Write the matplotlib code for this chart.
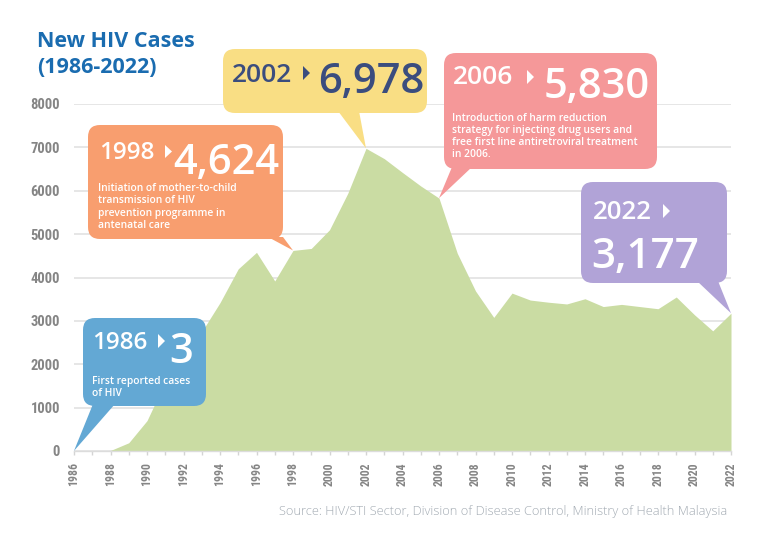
import matplotlib
matplotlib.use("Agg")
import matplotlib.pyplot as plt
from matplotlib import font_manager
from matplotlib.patches import FancyBboxPatch, Polygon

# data
years = list(range(1986, 2023))
cases = [3, 7, 12, 190, 700, 1600, 2300, 2750, 3420, 4200, 4580, 3920, 4624, 4670,
         5100, 5940, 6978, 6740, 6420, 6110, 5830, 4560, 3690, 3080, 3640, 3480,
         3430, 3390, 3510, 3330, 3380, 3330, 3280, 3550, 3140, 2770, 3177]

y_ticks = [0, 1000, 2000, 3000, 4000, 5000, 6000, 7000, 8000]
x_major = list(range(1986, 2023, 2))

title = "New HIV Cases\n(1986-2022)"
source = "Source: HIV/STI Sector, Division of Disease Control, Ministry of Health Malaysia"

callout_years = [1986, 1998, 2002, 2006, 2022]
callout_numbers = ["3", "4,624", "6,978", "5,830", "3,177"]
callout_notes = [
    ["First reported cases", "of HIV"],
    ["Initiation of mother-to-child", "transmission of HIV",
     "prevention programme in", "antenatal care"],
    [],
    ["Introduction of harm reduction", "strategy for injecting drug users and",
     "free first line antiretroviral treatment", "in 2006."],
    [],
]

# layout of each callout, in pixels measured from the top-left corner
callout_style = [
    dict(box=(83, 318, 206, 406), color="#63a8d4", text="white", base=(93, 115),
         year=(92, 349, 17.5), tri=(158, 334, 348), num=(169, 363, 30),
         note=(92, 384, 12.2)),
    dict(box=(88, 125, 283, 239), color="#f89e6f", text="white", base=(268, 283),
         year=(99, 159, 17.5), tri=(165, 145, 158), num=(173, 174, 30),
         note=(98, 191, 12.3)),
    dict(box=(223, 49, 427, 113), color="#f9de84", text="#3b4d7e", base=(338, 359),
         year=(232, 82, 19), tri=(303, 66, 80), num=(318, 93, 30), note=None),
    dict(box=(444, 53, 657, 169), color="#f59899", text="white", base=(452, 472),
         year=(453, 84, 19), tri=(527, 70, 84), num=(544, 98, 30),
         note=(452, 121, 12.1)),
    dict(box=(581, 182, 727, 283), color="#b1a3d7", text="white", base=(697, 718),
         year=(593, 219, 18.5), tri=(663, 204, 218), num=(591, 268, 30.5),
         note=None),
]

# pick a narrow face for the axis numbers if one is installed
fonts = font_manager.fontManager.ttflist
names = {f.name for f in fonts}
if "Roboto Condensed" in names:
    tick_font = dict(family="Roboto Condensed", weight="bold")
    x_size, y_size = 8.5, 10.5
elif "Liberation Sans Narrow" in names:
    tick_font = dict(family="Liberation Sans Narrow", weight="bold")
    x_size, y_size = 8.5, 10.5
elif any(f.name == "DejaVu Sans" and f.stretch == "condensed" for f in fonts):
    tick_font = dict(family="DejaVu Sans", stretch="condensed", weight="bold")
    x_size, y_size = 8, 10
else:
    tick_font = dict(family="DejaVu Sans", weight="bold")
    x_size, y_size = 7.5, 9
sans = ["Open Sans", "DejaVu Sans"]

W, H = 768, 541
fig = plt.figure(figsize=(W / 100, H / 100), dpi=100)
fig.patch.set_facecolor("white")

ax = fig.add_axes([74 / W, 1 - 451 / H, (731 - 74) / W, (451 - 104) / H])
ax.set_xlim(1986, 2022)
ax.set_ylim(0, 8000)
ax.fill_between(years, cases, color="#cadca3", lw=0, zorder=2)

ax.set_yticks(y_ticks)
ax.set_yticklabels([str(v) for v in y_ticks])
ax.set_xticks(x_major)
ax.set_xticks(years, minor=True)
ax.set_xticklabels([str(v) for v in x_major])
ax.grid(axis="y", color="#e4e4e4", lw=1.3, zorder=0)
ax.set_axisbelow(True)
for side in ["top", "right", "left"]:
    ax.spines[side].set_visible(False)
ax.spines["bottom"].set_color("#dcdcdc")
ax.spines["bottom"].set_linewidth(1.0)
ax.tick_params(axis="x", which="both", length=3, width=1, color="#d4d4d4", pad=5)
ax.tick_params(axis="y", length=0, pad=10)
for lab in ax.get_xticklabels():
    lab.set_rotation(90)
    lab.set_fontproperties(font_manager.FontProperties(size=x_size, **tick_font))
    lab.set_color("#858585")
for lab in ax.get_yticklabels():
    lab.set_fontproperties(font_manager.FontProperties(size=y_size, **tick_font))
    lab.set_color("#858585")

# overlay in pixel units for the callouts and titles
ov = fig.add_axes([0, 0, 1, 1], zorder=5)
ov.set_xlim(0, W)
ov.set_ylim(H, 0)
ov.axis("off")
ov.patch.set_alpha(0)

for yr, num, note, st in zip(callout_years, callout_numbers, callout_notes, callout_style):
    x0, y0, x1, y1 = st["box"]
    val = cases[years.index(yr)]
    tip = ov.transData.inverted().transform(ax.transData.transform((yr, val)))
    ov.add_patch(Polygon([(st["base"][0], y1 - 2), (st["base"][1], y1 - 2), tuple(tip)],
                         closed=True, fc=st["color"], ec="none"))
    ov.add_patch(FancyBboxPatch((x0, y0), x1 - x0, y1 - y0,
                                boxstyle="round,pad=0,rounding_size=12",
                                fc=st["color"], ec="none"))
    tx, tyb, fs = st["year"]
    ov.text(tx, tyb, str(yr), ha="left", va="baseline", fontsize=fs,
            fontweight="semibold", family=sans, color=st["text"])
    trx, tr0, tr1 = st["tri"]
    ov.add_patch(Polygon([(trx, tr0), (trx, tr1), (trx + 7, (tr0 + tr1) / 2)],
                         closed=True, fc=st["text"], ec="none"))
    nx, nyb, nfs = st["num"]
    ov.text(nx, nyb, num, ha="left", va="baseline", fontsize=nfs,
            fontweight="semibold", family=sans, color=st["text"])
    if st["note"]:
        lx, ly, step = st["note"]
        for i, line in enumerate(note):
            ov.text(lx, ly + i * step, line, ha="left", va="baseline", fontsize=7.4,
                    fontweight="semibold", family=sans, color=st["text"])

t1, t2 = title.split("\n")
ov.text(37, 47, t1, ha="left", va="baseline", fontsize=15.5, fontweight="bold",
        family=sans, color="#1a6cb0")
ov.text(37, 73, t2, ha="left", va="baseline", fontsize=15.5, fontweight="bold",
        family=sans, color="#1a6cb0")
ov.text(727, 515, source, ha="right", va="baseline", fontsize=9.3,
        fontweight="light", family=sans, color="#a3abb3")

fig.savefig("out.png", dpi=100)
